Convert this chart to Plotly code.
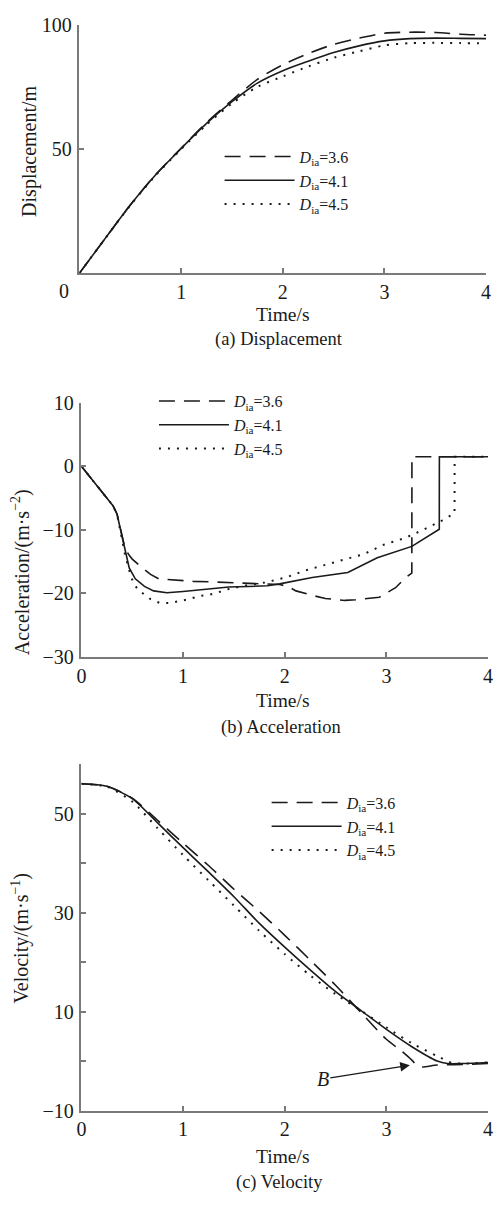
import plotly.graph_objects as go

W, H = 497, 1206

# ---------------- data ----------------
LABELS = ["3.6", "4.1", "4.5"]

# (a) displacement, m
T_DISP = [0, 0.25, 0.5, 0.75, 1.0, 1.25, 1.5, 1.75, 2.0, 2.25, 2.5, 2.75, 3.0, 3.25, 3.5, 3.75, 4.0]
DISP_36 = [0, 13.8, 27.4, 39.7, 50.3, 60.6, 69.6, 78.0, 83.9, 88.4, 92.1, 94.6, 96.6, 97.0, 96.9, 96.2, 95.8]
DISP_41 = [0, 13.8, 27.4, 39.6, 50.2, 60.3, 69.0, 76.5, 81.5, 85.3, 88.8, 91.5, 93.5, 94.4, 94.6, 94.5, 94.4]
DISP_45 = [0, 13.8, 27.3, 39.4, 49.9, 59.8, 68.3, 75.0, 79.2, 83.2, 86.7, 89.3, 91.7, 92.6, 92.7, 92.6, 92.6]

# (b) acceleration, m/s^2
T_ACC_36 = [0, 0.13, 0.23, 0.31, 0.35, 0.39, 0.43, 0.47, 0.5, 0.6, 0.68, 0.76, 0.93, 1.1, 1.3, 1.5, 1.7,
            1.95, 2.03, 2.11, 2.27, 2.4, 2.59, 2.7, 2.93, 3.09, 3.19, 3.25, 3.251, 4.0]
ACC_36 = [0, -2.6, -4.6, -6.2, -7.5, -10.5, -13.0, -14.0, -14.6, -16.0, -17.0, -17.7, -17.9, -18.1, -18.2,
          -18.3, -18.4, -18.6, -18.9, -19.6, -20.3, -20.8, -21.1, -21.0, -20.6, -19.1, -17.5, -16.8, 1.5, 1.5]
T_ACC_41 = [0, 0.13, 0.23, 0.31, 0.35, 0.39, 0.43, 0.47, 0.53, 0.62, 0.71, 0.84, 1.0, 1.26, 1.45, 1.64,
            1.83, 1.95, 2.27, 2.62, 2.91, 3.25, 3.52, 3.521, 4.0]
ACC_41 = [0, -2.6, -4.6, -6.2, -7.5, -10.5, -13.5, -16.0, -17.7, -18.9, -19.6, -19.9, -19.7, -19.3, -19.0,
          -18.9, -18.8, -18.5, -17.5, -16.7, -14.4, -12.6, -9.9, 1.5, 1.5]
T_ACC_45 = [0, 0.13, 0.23, 0.31, 0.35, 0.39, 0.43, 0.485, 0.52, 0.58, 0.68, 0.77, 0.87, 0.97, 1.06, 1.16,
            1.26, 1.35, 1.45, 1.6, 1.8, 2.01, 2.2, 2.4, 2.59, 2.78, 2.98, 3.18, 3.36, 3.55, 3.67, 3.671, 4.0]
ACC_45 = [0, -2.6, -4.6, -6.2, -7.5, -10.5, -14.0, -17.2, -18.7, -19.7, -20.9, -21.5, -21.5, -21.2, -20.9,
          -20.4, -20.2, -19.8, -19.3, -18.8, -18.3, -17.5, -16.4, -15.5, -14.6, -13.8, -12.3, -11.3, -10.0,
          -8.5, -7.4, 1.5, 1.5]

# (c) velocity, m/s
T_VEL_36 = [0, 0.25, 0.5, 0.75, 1.0, 1.25, 1.5, 1.75, 2.0, 2.25, 2.5, 2.75, 3.0, 3.15, 3.25, 3.3, 3.35, 3.5, 3.75, 4.0]
VEL_36 = [56, 55.5, 53.1, 48.6, 44.0, 39.5, 34.7, 30.2, 25.4, 20.4, 15.3, 9.8, 4.4, 2.0, 0.2, -0.9, -1.2, -0.8, -0.7, -0.5]
T_VEL_41 = [0, 0.25, 0.5, 0.75, 1.0, 1.25, 1.5, 1.75, 2.0, 2.25, 2.5, 2.75, 3.0, 3.25, 3.5, 3.6, 3.75, 4.0]
VEL_41 = [56, 55.5, 53.0, 48.1, 43.1, 38.2, 33.2, 27.8, 23.0, 18.4, 14.0, 10.2, 6.4, 2.9, 0.0, -0.5, -0.5, -0.3]
T_VEL_45 = [0, 0.25, 0.5, 0.75, 1.0, 1.25, 1.5, 1.75, 2.0, 2.25, 2.5, 2.75, 3.0, 3.25, 3.5, 3.65, 3.75, 4.0]
VEL_45 = [56, 55.4, 52.4, 47.0, 41.6, 36.5, 31.4, 26.3, 21.6, 17.3, 13.5, 10.2, 6.8, 3.6, 1.0, -0.4, -0.5, -0.3]

X_TICKS = [0, 1, 2, 3, 4]

# ---------------- styling ----------------
SERIF = "Liberation Serif"
INK = "#1a1a1a"
AXC = "#7a7a7a"
DASHES = ["16px,9px", "solid", "2px,7px"]
WIDTHS = [1.6, 1.6, 2.0]


def px(x):
    return x / W


def py(y):
    return 1 - y / H


fig = go.Figure()

panels = [
    ("x", "y", "legend", "spline", [(T_DISP, DISP_36), (T_DISP, DISP_41), (T_DISP, DISP_45)]),
    ("x2", "y2", "legend2", "linear", [(T_ACC_36, ACC_36), (T_ACC_41, ACC_41), (T_ACC_45, ACC_45)]),
    ("x3", "y3", "legend3", "spline", [(T_VEL_36, VEL_36), (T_VEL_41, VEL_41), (T_VEL_45, VEL_45)]),
]

for xa, ya, lg, shape, data in panels:
    for (t, v), lab, dsh, w in zip(data, LABELS, DASHES, WIDTHS):
        line = dict(color=INK, width=w, dash=dsh, shape=shape)
        if shape == "spline":
            line["smoothing"] = 0.7
        fig.add_trace(go.Scatter(
            x=t, y=v, mode="lines", xaxis=xa, yaxis=ya, legend=lg,
            name="<i>D</i><sub>ia</sub>=" + lab, line=line,
        ))

ax_common = dict(
    showline=True, linecolor=AXC, linewidth=1.5, mirror=False,
    ticks="inside", ticklen=5, tickwidth=1.5, tickcolor=AXC,
    showgrid=False, zeroline=False,
    tickfont=dict(family=SERIF, size=20, color=INK),
    fixedrange=True,
)

xdom_a = [px(76), px(491)]
xdom_bc = [px(78), px(493)]
XSO = 0
YSO = 2

fig.update_layout(
    width=W, height=H,
    margin=dict(l=0, r=0, t=0, b=0),
    paper_bgcolor="white", plot_bgcolor="white",
    font=dict(family=SERIF, size=20, color=INK),
    xaxis=dict(ax_common, domain=xdom_a, range=[0, 4], tickvals=X_TICKS,
               ticktext=["", "1", "2", "3", "4"], anchor="y", ticklabelstandoff=XSO),
    yaxis=dict(ax_common, domain=[py(267), py(14)], range=[0, 100], tickvals=[0, 50, 100],
               ticktext=["", "50", "100"], anchor="x", ticklabelstandoff=YSO),
    xaxis2=dict(ax_common, domain=xdom_bc, range=[0, 4], tickvals=X_TICKS, anchor="y2",
                ticklabelstandoff=XSO),
    yaxis2=dict(ax_common, domain=[py(658), py(399)], range=[-30, 10],
                tickvals=[-30, -20, -10, 0, 10], anchor="x2", ticklabelstandoff=YSO),
    xaxis3=dict(ax_common, domain=xdom_bc, range=[0, 4], tickvals=X_TICKS, anchor="y3",
                ticklabelstandoff=XSO),
    yaxis3=dict(ax_common, domain=[py(1120), py(767)], range=[-10, 60],
                tickvals=[-10, 0, 10, 20, 30, 40, 50],
                ticktext=["\u221210", "", "10", "", "30", "", "50"], anchor="x3",
                ticklabelstandoff=YSO),
    showlegend=True,
)

leg_common = dict(
    font=dict(family=SERIF, size=16, color=INK),
    bgcolor="rgba(0,0,0,0)", borderwidth=0,
    xanchor="left", yanchor="top", itemwidth=70,
    itemclick=False, itemdoubleclick=False,
)
fig.update_layout(
    legend=dict(leg_common, x=px(219), y=py(131)),
    legend2=dict(leg_common, x=px(152), y=py(380)),
    legend3=dict(leg_common, x=px(267), y=py(789)),
)

annos = [
    # y-axis titles
    dict(text="Displacement/m", x=px(25), y=py(142), textangle=-90, size=20),
    dict(text="Acceleration/(m\u00b7s<sup>\u22122</sup>)", x=px(16), y=py(572), textangle=-90, size=20),
    dict(text="Velocity/(m\u00b7s<sup>\u22121</sup>)", x=px(16), y=py(945), textangle=-90, size=20),
    # x-axis titles
    dict(text="Time/s", x=px(283), y=py(309), size=19.5),
    dict(text="Time/s", x=px(283), y=py(702), size=19.5),
    dict(text="Time/s", x=px(283), y=py(1167), size=19.5),
    # captions
    dict(text="(a) Displacement", x=px(280), y=py(335), size=18.5),
    dict(text="(b) Acceleration", x=px(282), y=py(730), size=18.5),
    dict(text="(c) Velocity", x=px(280), y=py(1193), size=18.5),
    # origin label of panel (a)
    dict(text="0", x=px(60), y=py(285), size=20),
]
for a in annos:
    a = dict(a)
    size = a.pop("size")
    fig.add_annotation(dict(a, xref="paper", yref="paper", showarrow=False,
                            xanchor="center", yanchor="middle",
                            font=dict(family=SERIF, size=size, color=INK)))

# arrow pointing at point B on the 3.6 velocity curve
fig.add_annotation(
    x=3.25, y=-0.8, xref="x3", yref="y3",
    text="<i>B</i>", showarrow=True, ax=-89, ay=14,
    arrowhead=2, arrowsize=1.6, arrowwidth=1.2, arrowcolor=INK, standoff=2,
    font=dict(family=SERIF, size=20, color=INK),
)

fig.write_html("out.html")
